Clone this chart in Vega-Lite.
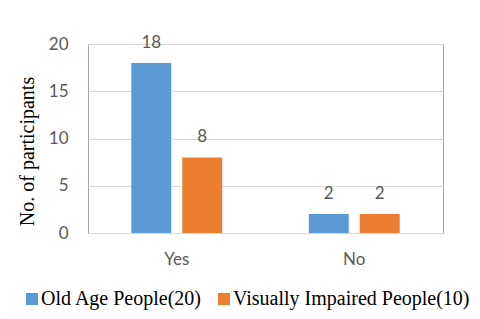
{
  "$schema": "https://vega.github.io/schema/vega-lite/v6.json",
  "width": 355,
  "height": 189,
  "autosize": {"type": "none"},
  "padding": {"left": 88, "top": 44, "right": 37, "bottom": 86},
  "background": "white",
  "data": {
    "values": [
      {"answer": "Yes", "group": "Old Age People(20)", "count": 18},
      {"answer": "Yes", "group": "Visually Impaired People(10)", "count": 8},
      {"answer": "No", "group": "Old Age People(20)", "count": 2},
      {"answer": "No", "group": "Visually Impaired People(10)", "count": 2}
    ]
  },
  "encoding": {
    "x": {
      "field": "answer", "type": "nominal", "sort": ["Yes", "No"],
      "scale": {"paddingInner": 0, "paddingOuter": 0},
      "axis": {"title": null, "labelAngle": 0, "domain": false, "ticks": false, "labelPadding": 18,
               "labelFont": "Lato", "labelFontSize": 17, "labelColor": "#595959"}
    },
    "xOffset": {
      "field": "group", "type": "nominal",
      "scale": {"paddingInner": 0.216, "paddingOuter": 0.85}
    },
    "y": {
      "field": "count", "type": "quantitative",
      "scale": {"domain": [0, 20]},
      "axis": {"values": [0, 5, 10, 15, 20], "title": "No. of participants", "domain": false, "ticks": false,
               "labelPadding": 20, "labelFont": "Lato", "labelFontSize": 17, "labelColor": "#595959",
               "gridColor": "#D9D9D9", "titleFont": "Liberation Serif", "titleFontSize": 20,
               "titleFontWeight": "normal", "titleColor": "#000000", "titlePadding": 11, "titleY": 107}
    }
  },
  "layer": [
    {
      "mark": {"type": "bar"},
      "encoding": {
        "color": {
          "field": "group", "type": "nominal",
          "scale": {"range": ["#5B9BD5", "#ED7D31"]},
          "legend": {"title": null, "orient": "none", "direction": "horizontal", "legendX": -66, "legendY": 245,
                     "symbolType": "square", "symbolSize": 144, "symbolStrokeWidth": 0,
                     "labelFont": "Liberation Serif", "labelFontSize": 20, "labelColor": "#000000",
                     "labelLimit": 0, "columnPadding": 11, "labelOffset": -1}
        }
      }
    },
    {
      "mark": {"type": "text", "baseline": "alphabetic", "dy": -15, "font": "Lato", "fontSize": 17, "color": "#595959"},
      "encoding": {"text": {"field": "count", "type": "quantitative"}}
    }
  ],
  "config": {
    "view": {"stroke": "#A6A6A6", "strokeWidth": 1}
  }
}
